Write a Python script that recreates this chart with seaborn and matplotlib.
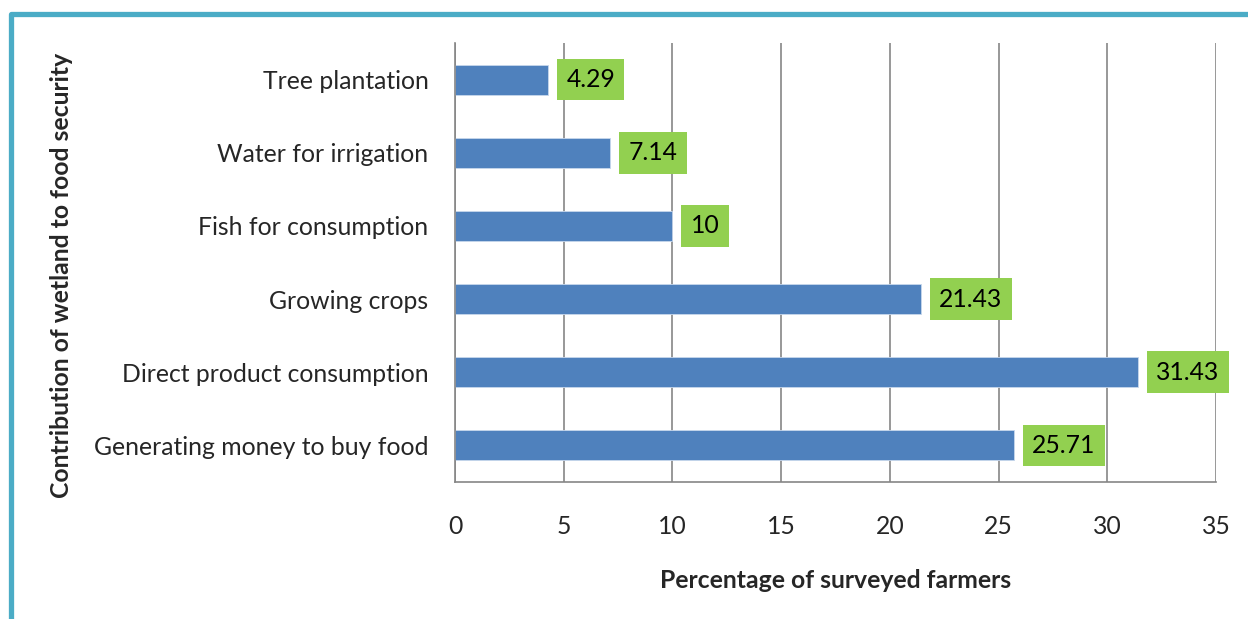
import matplotlib
matplotlib.use("Agg")
import matplotlib.pyplot as plt
from matplotlib.lines import Line2D
from matplotlib.ticker import FixedLocator
import seaborn as sns
import pandas as pd

categories = ["Tree plantation", "Water for irrigation", "Fish for consumption",
              "Growing crops", "Direct product consumption", "Generating money to buy food"]
values = [4.29, 7.14, 10, 21.43, 31.43, 25.71]
value_labels = ["4.29", "7.14", "10", "21.43", "31.43", "25.71"]
x_ticks = [0, 5, 10, 15, 20, 25, 30, 35]

sns.set_style("white")
plt.rcParams['font.family'] = ['Lato', 'DejaVu Sans']
FS = 17.8

df = pd.DataFrame({"category": categories, "value": values})

fig = plt.figure(figsize=(12.48, 6.19), dpi=100)
ax = fig.add_axes([455/1248, 1-482/619, (1216-455)/1248, (482-43)/619])

sns.barplot(data=df, y="category", x="value", order=categories, color="#4F81BD",
            saturation=1, width=0.41, ax=ax, edgecolor="#C7D7EC", linewidth=0.6)

ax.set_xlim(0, 35)
ax.set_ylim(5.5, -0.5)
ax.set_xticks(x_ticks)
ax.set_xticklabels([str(t) for t in x_ticks], fontsize=FS)
ax.grid(axis="x", color="#868686", linewidth=1.2)
ax.set_axisbelow(True)

ax.tick_params(axis="y", which="major", length=0, pad=19, labelsize=FS)
ax.yaxis.set_minor_locator(FixedLocator([i - 0.5 for i in range(len(categories) + 1)]))
ax.tick_params(axis="y", which="minor", length=9, width=1.2, color="#868686", direction="out")
ax.tick_params(axis="x", which="major", length=9, width=1.2, color="#868686", pad=15, direction="out")
ax.set_yticks(range(len(categories)))
ax.set_yticklabels(categories)

for s in ["top", "right"]:
    ax.spines[s].set_visible(False)
for s in ["left", "bottom"]:
    ax.spines[s].set_color("#868686")
    ax.spines[s].set_linewidth(1.2)

ax.set_xlabel("Percentage of surveyed farmers", fontsize=FS, fontweight="bold", labelpad=22)
ax.set_ylabel("")
fig.text(62/1248, 1-275/619, "Contribution of wetland to food security", rotation=90,
         fontsize=FS, fontweight="bold", ha="center", va="center")

ax.bar_label(ax.containers[0], labels=value_labels, padding=13, fontsize=FS,
             color="black",
             bbox=dict(boxstyle="square,pad=0.38", facecolor="#92D050", edgecolor="none"))

# border
y0 = 1 - 14/619
x0 = 11/1248
fig.add_artist(Line2D([1.0, x0, x0], [y0, y0, 0.0], transform=fig.transFigure,
                      color="#4BACC6", linewidth=3.8, solid_joinstyle="round"))

fig.savefig("out.png", dpi=100)
